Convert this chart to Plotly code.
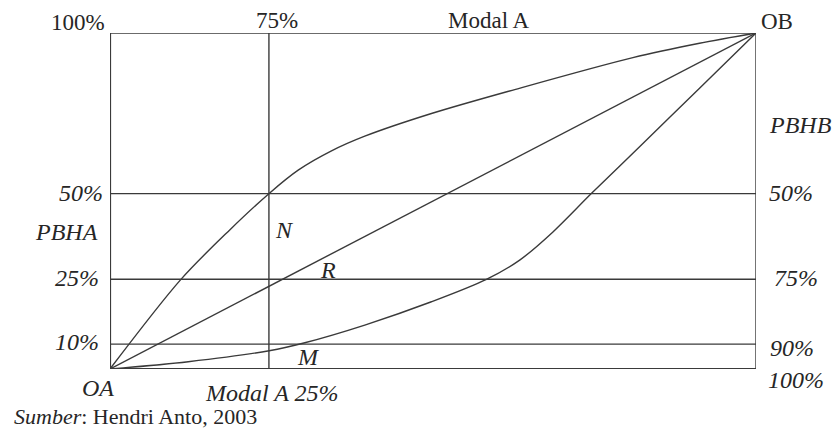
import plotly.graph_objects as go

# Curve data (percent of box width / height)
n_x = [0, 10.98, 18.5, 24.64, 29.13, 34.29, 39.44, 49.76, 62.65, 80.94, 91.26, 100]
n_y = [0, 26.67, 41.33, 52.25, 59.17, 64.91, 69.28, 76.03, 83.17, 92.68, 96.94, 100]
r_x = [0, 100]
r_y = [0, 100]
m_x = [0, 12.11, 24.64, 30.16, 39.44, 49.76, 58.27, 63.42, 68.57, 74.51, 81.98, 91.26, 100]
m_y = [0, 2.17, 5.44, 7.82, 13.08, 20.01, 26.67, 32.41, 40.8, 52.2, 66.16, 83.56, 100]

level_y = [52.2, 26.7, 7.4]
left_labels = ["50%", "25%", "10%"]
right_labels = ["50%", "75%", "90%"]
vert_x = [24.6]

LINE = "#3a3a3a"
TXT = "#262626"
FONT = "Liberation Serif, Times New Roman, serif"
FS_UP = 23
FS_IT = 24

fig = go.Figure()
for xs, ys in [(n_x, n_y), (r_x, r_y), (m_x, m_y)]:
    fig.add_trace(go.Scatter(x=xs, y=ys, mode="lines",
                             line=dict(color=LINE, width=1.4, shape="spline", smoothing=0.9),
                             hoverinfo="skip", showlegend=False))

# horizontal level lines
for yv in level_y:
    fig.add_shape(type="line", xref="x", yref="y", x0=0, x1=100, y0=yv, y1=yv,
                  line=dict(color=LINE, width=1.4))
for xv in vert_x:
    fig.add_shape(type="line", xref="x", yref="y", x0=xv, x1=xv, y0=0, y1=100,
                  line=dict(color=LINE, width=1.4))

# box
fig.add_shape(type="line", xref="x", yref="y", x0=0, x1=100, y0=100, y1=100, line=dict(color=LINE, width=1.4))
fig.add_shape(type="line", xref="x", yref="y", x0=100, x1=100, y0=0, y1=100, line=dict(color=LINE, width=1.4))
fig.add_shape(type="line", xref="x", yref="y", x0=0, x1=0, y0=0, y1=100, line=dict(color=LINE, width=2.2))
fig.add_shape(type="line", xref="x", yref="y", x0=0, x1=100, y0=0, y1=0, line=dict(color=LINE, width=2.2))

def ann(text, x, y, xanchor="center", italic=False):
    t = f"<i>{text}</i>" if italic else text
    fig.add_annotation(text=t, x=x, y=y, xref="paper", yref="paper", xanchor=xanchor,
                       yanchor="middle", showarrow=False,
                       font=dict(family=FONT, size=FS_IT if italic else FS_UP, color=TXT))

# top labels
ann("100%", -0.0046, 1.030, "right")
ann("75%", 0.258, 1.038)
ann("Modal A", 0.586, 1.038)
ann("OB", 1.0054, 1.035, "left")
# right labels
ann("PBHB", 1.0178, 0.7255, "left", True)
right_y = [0.523, 0.271, 0.0624]
for lab, yy, xx in zip(right_labels, right_y, [1.0178, 1.024, 1.018]):
    ann(lab, xx, yy, "left", True)
ann("100%", 1.016, -0.0327, "left", True)
# left labels
left_y = [0.523, 0.271, 0.081]
for lab, yy, xx in zip(left_labels, left_y, [-0.0077, -0.0139, -0.0139]):
    ann(lab, xx, yy, "right", True)
ann("PBHA", -0.0155, 0.408, "right", True)
# bottom
ann("OA", -0.0186, -0.057, "center", True)
ann("Modal A 25%", 0.2506, -0.0714, "center", True)
fig.add_annotation(text="<i>Sumber</i>: Hendri Anto, 2003", x=-0.1516, y=-0.142,
                   xref="paper", yref="paper", xanchor="left", yanchor="middle",
                   showarrow=False, font=dict(family=FONT, size=22, color=TXT))
# curve labels
ann("N", 0.2707, 0.413, "center", True)
ann("R", 0.3372, 0.294, "center", True)
ann("M", 0.3078, 0.0366, "center", True)

fig.update_xaxes(range=[0, 100], visible=False, fixedrange=True)
fig.update_yaxes(range=[0, 100], visible=False, fixedrange=True)
fig.update_layout(width=835, height=430,
                  margin=dict(l=110, r=78.5, t=32.7, b=61, autoexpand=False),
                  plot_bgcolor="white", paper_bgcolor="white")

fig.write_html("out.html", config={"displayModeBar": False},
               post_script="document.body.style.margin='0';document.body.style.overflow='hidden';")
